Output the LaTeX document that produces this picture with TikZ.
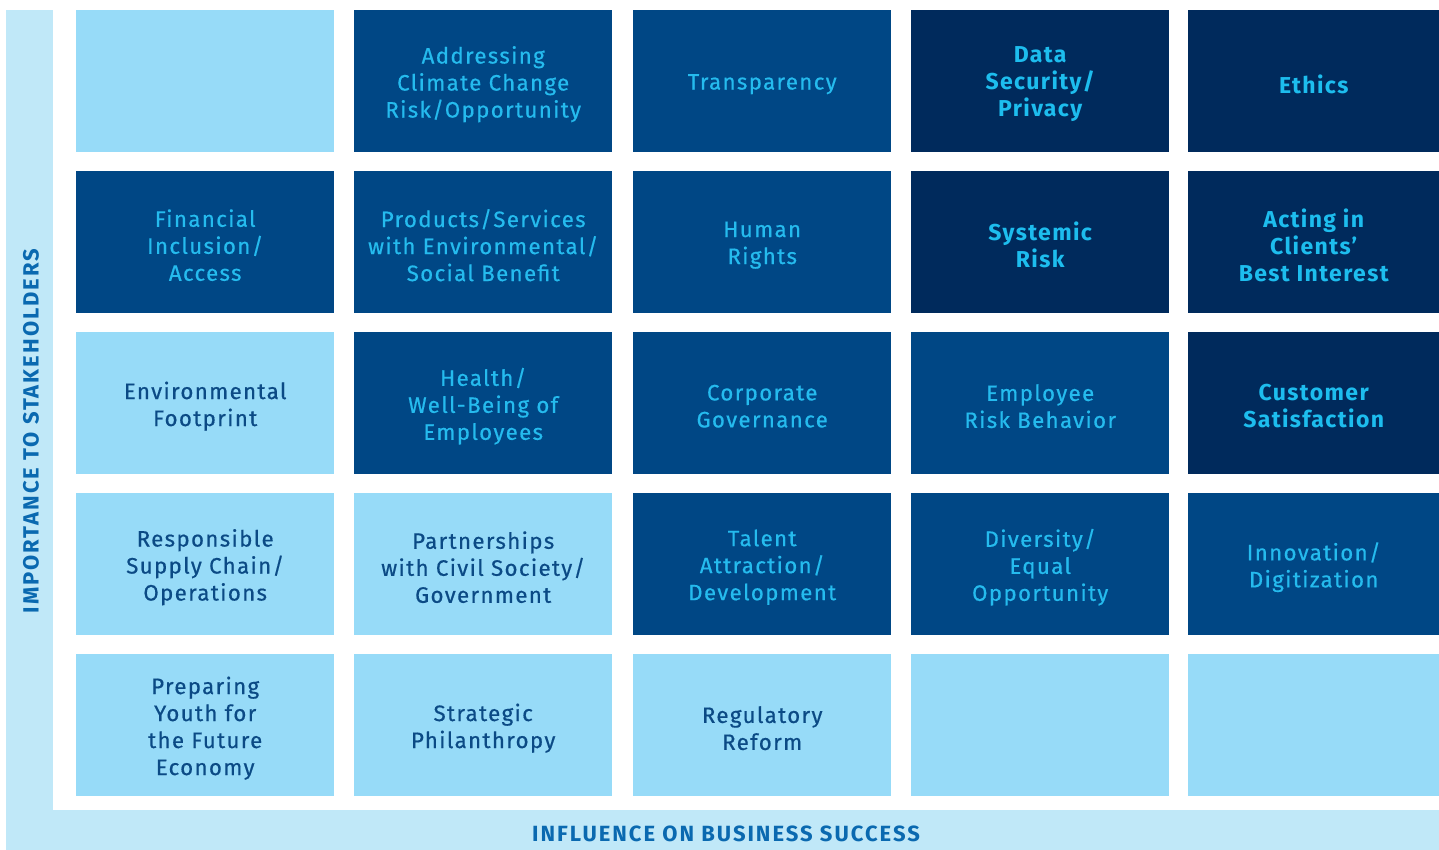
\documentclass[tikz,border=0pt]{standalone}
\usepackage{fontspec}
\setmainfont{Fira Sans}[LetterSpace=6]
\newfontfamily\cellfont{Fira Sans}[LetterSpace=6, FakeBold=0.5]
\newfontfamily\axisfont{Fira Sans}[LetterSpace=9]
\definecolor{bandcol}{HTML}{C0E8F8}
\definecolor{axistext}{HTML}{0A69B0}
\definecolor{lightcell}{HTML}{97DBF8}
\definecolor{lighttext}{HTML}{0B4A85}
\definecolor{medcell}{HTML}{004785}
\definecolor{medtext}{HTML}{25BBEE}
\definecolor{darkcell}{HTML}{002A5C}
\definecolor{darktext}{HTML}{1DBDEE}
\tikzset{
  cellbox/.style={anchor=north west, minimum width=258pt, minimum height=142pt, inner sep=0pt},
  lightbox/.style={cellbox, fill=lightcell},
  medbox/.style={cellbox, fill=medcell},
  darkbox/.style={cellbox, fill=darkcell},
  celltext/.style={align=center, inner sep=0pt, yshift=-3pt, font=\cellfont\fontsize{22.3}{27}\selectfont},
  lighttxt/.style={celltext, text=lighttext},
  medtxt/.style={celltext, text=medtext},
  darktxt/.style={celltext, text=darktext, font=\fontsize{23}{27}\selectfont\bfseries},
  axislabel/.style={text=axistext, font=\axisfont\fontsize{22}{24}\selectfont\bfseries, inner sep=0pt}
}
\begin{document}
\begin{tikzpicture}[x=1pt,y=-1pt]
\useasboundingbox (0,0) rectangle (1439,850);
\fill[bandcol] (6,10) rectangle (53,850);
\fill[bandcol] (6,810) rectangle (1439,850);
% row 1
\node[lightbox] (c11) at (76,10) {};
\node[medbox] (c12) at (354,10) {};
\node[medtxt] (t12) at (c12.center) {Addressing\\Climate Change\\Risk/Opportunity};
\node[medbox] (c13) at (633,10) {};
\node[medtxt] (t13) at (c13.center) {Transparency};
\node[darkbox] (c14) at (911,10) {};
\node[darktxt] (t14) at (c14.center) {Data\\Security/\\Privacy};
\node[darkbox, minimum width=251pt] (c15) at (1188,10) {};
\node[darktxt] (t15) at (c15.center) {Ethics};
% row 2
\node[medbox] (c21) at (76,171) {};
\node[medtxt] (t21) at (c21.center) {Financial\\Inclusion/\\Access};
\node[medbox] (c22) at (354,171) {};
\node[medtxt] (t22) at (c22.center) {Products/Services\\with Environmental/\\Social Benefit};
\node[medbox] (c23) at (633,171) {};
\node[medtxt] (t23) at (c23.center) {Human\\Rights};
\node[darkbox] (c24) at (911,171) {};
\node[darktxt] (t24) at (c24.center) {Systemic\\Risk};
\node[darkbox, minimum width=251pt] (c25) at (1188,171) {};
\node[darktxt] (t25) at (c25.center) {Acting in\\Clients'\\Best Interest};
% row 3
\node[lightbox] (c31) at (76,332) {};
\node[lighttxt] (t31) at (c31.center) {Environmental\\Footprint};
\node[medbox] (c32) at (354,332) {};
\node[medtxt] (t32) at (c32.center) {Health/\\Well-Being of\\Employees};
\node[medbox] (c33) at (633,332) {};
\node[medtxt] (t33) at (c33.center) {Corporate\\Governance};
\node[medbox] (c34) at (911,332) {};
\node[medtxt] (t34) at (c34.center) {Employee\\Risk Behavior};
\node[darkbox, minimum width=251pt] (c35) at (1188,332) {};
\node[darktxt] (t35) at (c35.center) {Customer\\Satisfaction};
% row 4
\node[lightbox] (c41) at (76,493) {};
\node[lighttxt] (t41) at (c41.center) {Responsible\\Supply Chain/\\Operations};
\node[lightbox] (c42) at (354,493) {};
\node[lighttxt] (t42) at (c42.center) {Partnerships\\with Civil Society/\\Government};
\node[medbox] (c43) at (633,493) {};
\node[medtxt] (t43) at (c43.center) {Talent\\Attraction/\\Development};
\node[medbox] (c44) at (911,493) {};
\node[medtxt] (t44) at (c44.center) {Diversity/\\Equal\\Opportunity};
\node[medbox, minimum width=251pt] (c45) at (1188,493) {};
\node[medtxt] (t45) at (c45.center) {Innovation/\\Digitization};
% row 5
\node[lightbox] (c51) at (76,654) {};
\node[lighttxt] (t51) at (c51.center) {Preparing\\Youth for\\the Future\\Economy};
\node[lightbox] (c52) at (354,654) {};
\node[lighttxt] (t52) at (c52.center) {Strategic\\Philanthropy};
\node[lightbox] (c53) at (633,654) {};
\node[lighttxt] (t53) at (c53.center) {Regulatory\\Reform};
\node[lightbox] (c54) at (911,654) {};
\node[lightbox, minimum width=251pt] (c55) at (1188,654) {};
% axes
\node[axislabel, rotate=90] (yaxis) at (31,431) {IMPORTANCE TO STAKEHOLDERS};
\node[axislabel] (xaxis) at (726,834) {INFLUENCE ON BUSINESS SUCCESS};
\end{tikzpicture}
\end{document}
